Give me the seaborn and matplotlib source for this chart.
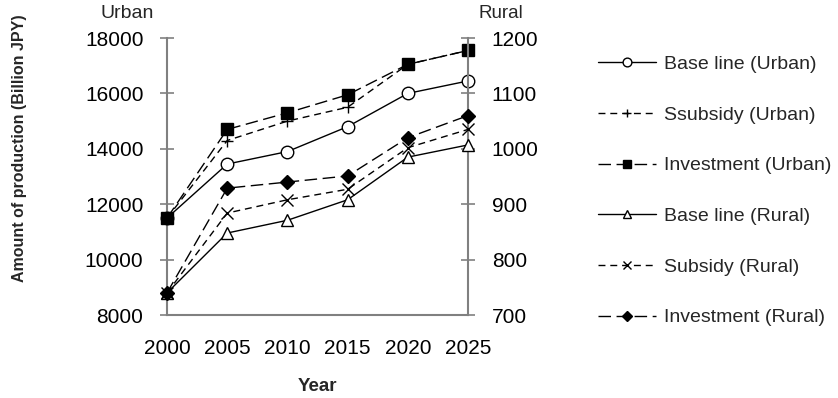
import numpy as np
import pandas as pd
import seaborn as sns
import matplotlib.pyplot as plt

years = [2000, 2005, 2010, 2015, 2020, 2025]

# urban (left axis)
base_urban = [11500, 13450, 13900, 14800, 16000, 16450]
subsidy_urban = [11500, 14300, 15000, 15500, 17050, 17550]
invest_urban = [11500, 14700, 15300, 15950, 17050, 17550]

# rural (right axis)
base_rural = [740, 848, 871, 908, 985, 1007]
subsidy_rural = [740, 884, 908, 927, 1002, 1035]
invest_rural = [740, 929, 940, 951, 1020, 1060]

labels = ["Base line (Urban)", "Ssubsidy (Urban)", "Investment (Urban)",
          "Base line (Rural)", "Subsidy (Rural)", "Investment (Rural)"]

sns.set_style("white")
plt.rcParams['font.family'] = ['Liberation Sans', 'DejaVu Sans']

fig = plt.figure(figsize=(8.38, 3.98), dpi=100)
ax = fig.add_axes([0.1993, 0.2085, 0.3592, 0.696])
ax2 = ax.twinx()

short = (5, 3.5)
long_ = (9, 4)

styles = [
    (ax, base_urban, 'o', 'white', None, 9),
    (ax, subsidy_urban, '+', 'black', short, 9),
    (ax, invest_urban, 's', 'black', long_, 9),
    (ax2, base_rural, '^', 'white', None, 9),
    (ax2, subsidy_rural, 'x', 'black', short, 8),
    (ax2, invest_rural, 'D', 'black', long_, 7.5),
]

handles = []
for (a, vals, mk, fc, dash, ms), lab in zip(styles, labels):
    df = pd.DataFrame({'year': years, 'value': vals})
    sns.lineplot(data=df, x='year', y='value', ax=a, color='black',
                 linewidth=1, marker=mk, markersize=ms,
                 markerfacecolor=fc, markeredgecolor='black',
                 markeredgewidth=1, label=lab, legend=False, clip_on=False,
                 zorder=5)
    ln = a.lines[-1]
    if dash is not None:
        ln.set_dashes(dash)
    handles.append(ln)

ax.set_xlim(2000, 2025)
ax.set_ylim(8000, 18000)
ax2.set_ylim(700, 1200)
ax.set_xticks(years)
ax.set_yticks(np.arange(8000, 18001, 2000))
ax2.set_yticks(np.arange(700, 1201, 100))

for a in (ax, ax2):
    for s in a.spines.values():
        s.set_color('#808080')
        s.set_linewidth(1.5)
    a.spines['top'].set_visible(False)
    a.tick_params(axis='both', which='both', length=10, width=1.2,
                  color='#808080', labelsize=15, labelcolor='black',
                  direction='inout')
ax.spines['right'].set_visible(False)
ax2.spines['left'].set_visible(False)
ax2.spines['bottom'].set_visible(False)
ax.tick_params(axis='x', pad=12)
ax.tick_params(axis='y', pad=12)
ax2.tick_params(axis='y', pad=12)

ax.set_xlabel('Year', fontsize=13.5, fontweight='bold', labelpad=15)
ax.set_ylabel('')
ax2.set_ylabel('')
ax.grid(False)
ax2.grid(False)

fig.text(20 / 838, 1 - 148 / 398, 'Amount of production (Billion JPY)',
         fontsize=11.5, fontweight='bold', rotation=90, ha='center', va='center')
fig.text(127 / 838, 1 - 14 / 398, 'Urban', fontsize=14, ha='center', va='center')
fig.text(501 / 838, 1 - 13 / 398, 'Rural', fontsize=13.5, ha='center', va='center')

leg = fig.legend(handles=handles, labels=labels, loc='upper left',
                 bbox_to_anchor=(0.7015, 0.885), frameon=False,
                 fontsize=14, handlelength=3.0, handletextpad=0.4,
                 labelspacing=1.70, markerscale=0.7, borderpad=0)

fig.savefig('out.png', dpi=100)
